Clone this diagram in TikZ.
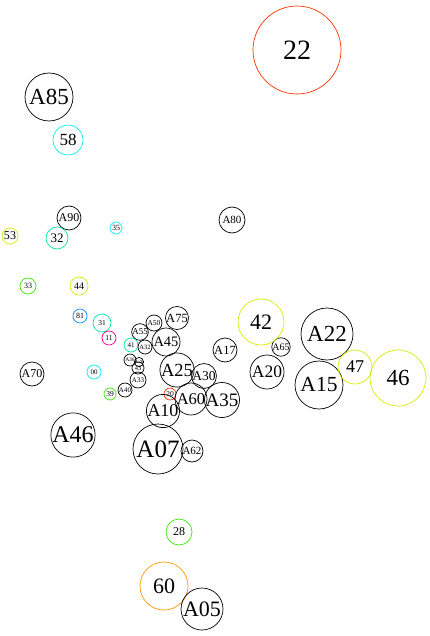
\documentclass[tikz,border=0pt]{standalone}
\usepackage{fontspec}
\setmainfont{Liberation Serif}
\usepackage{xcolor}
\usepackage{tikz}
\usetikzlibrary{shapes, positioning}

\definecolor{redc}{RGB}{255,51,0}
\definecolor{cyanc}{RGB}{0,238,238}
\definecolor{aquac}{RGB}{0,230,160}
\definecolor{yellowc}{RGB}{215,235,0}
\definecolor{greenc}{RGB}{60,230,0}
\definecolor{bluec}{RGB}{0,140,255}
\definecolor{magc}{RGB}{255,0,140}
\definecolor{orangec}{RGB}{255,153,0}

\tikzset{bub/.style={circle, inner sep=0pt, line width=0.7pt, text=black}}

\begin{document}
\begin{tikzpicture}[x=1pt, y=-1pt]
				\useasboundingbox (0,0) rectangle (429,636);
				% bubbles: x/y/radius/font size/label/colour
				\foreach \x/\y/\r/\s/\t/\c in {
					297/50/44/28/22/redc,
					49/97/24/23/A85/black,
					68/140/15/17/58/cyanc,
					69/218/12/12/A90/black,
					232/220/13/11/A80/black,
					10/236/8/12/53/yellowc,
					57/238/11/13/32/aquac,
					116/228/6/8/35/cyanc,
					28/286/8/8/33/greenc,
					79/286/9/10/44/yellowc,
					80/316/7/8/81/bluec,
					102/323/9/7.5/31/aquac,
					109/338/7/7.5/11/magc,
					154/323/8/7.5/A50/black,
					177/318/11/12.5/A75/black,
					140/332/8/9/A55/black,
					131/345/7/7/41/aquac,
					145/347/7/6.5/A32/black,
					166/342/14/14.5/A45/black,
					130/360/6/5.5/A36/black,
					139/362/4/5/A26/black,
					138/368/6/6.5/43/black,
					138/380/8/7/A33/black,
					125/390/7/7/A40/black,
					110/394/6/7.5/39/greenc,
					94/372/7/7/00/cyanc,
					32/374/12/12/A70/black,
					177/370/16/18.5/A25/black,
					204/376/12/13.5/A30/black,
					170/394/6/7.5/20/redc,
					191/399/16/16.5/A60/black,
					222/400/17/19/A35/black,
					163/411/16/18/A10/black,
					73/435/22/24/A46/black,
					158/449/25/25/A07/black,
					192/451/11/11/A62/black,
					225/350/12/12.5/A17/black,
					281/347/9/10/A65/black,
					261/322/23/22/42/yellowc,
					267/372/17/17.5/A20/black,
					327/334/26/23/A22/black,
					319/385/24/21.5/A15/black,
					355/367/17/18/47/yellowc,
					398/378/28/23/46/yellowc,
					179/532/13/12/28/greenc,
					164/586/24/22/60/orangec,
					202/609/21/22/A05/black}
				{
					\node[bub, draw=\c, minimum size=2*\r,
						font=\fontsize{\s}{\s}\selectfont] (b\t) at (\x,\y) {\t};
				}
			\end{tikzpicture}
\end{document}
